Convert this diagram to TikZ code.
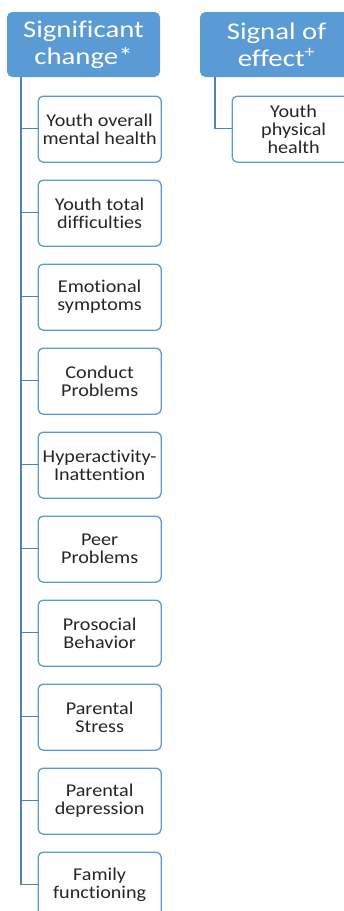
\documentclass[tikz,border=0pt]{standalone}
\usepackage{fontspec}
\setmainfont{Carlito}[Ligatures=NoCommon]
\newfontfamily\widefont[FakeStretch=1.12,Ligatures=NoCommon]{Carlito}
\newfontfamily\hdrfont[FakeStretch=1.2,Ligatures=NoCommon]{Carlito}
\definecolor{hdrblue}{HTML}{5B9BD5}
\definecolor{txtgray}{HTML}{262626}
\begin{document}
\begin{tikzpicture}[x=1pt,y=-1pt,
  hdr/.style={draw=hdrblue,fill=hdrblue,rounded corners=5pt,line width=1pt,
    minimum width=152pt,minimum height=64pt,text=white,align=center,
    font=\hdrfont\fontsize{24}{27}\selectfont,inner sep=0pt,anchor=north west},
  child/.style={draw=hdrblue,fill=white,rounded corners=5pt,line width=1.3pt,
    minimum width=123pt,minimum height=66pt,text=txtgray,align=center,
    font=\widefont\fontsize{18}{18}\selectfont,inner sep=0pt,anchor=north west},
  conn/.style={draw=hdrblue!85!black,line width=1.3pt}]
\clip (0,0) rectangle (344,911);
\useasboundingbox (0,0) rectangle (344,911);
\fill[white] (0,0) rectangle (344,911);
\node[hdr] (h1) at (7,12) {Significant\\change*};
\node[hdr] (h2) at (200,12) {Signal of\\effect\textsuperscript{+}};
\coordinate (s1) at ([xshift=14pt]h1.south west);
\coordinate (s2) at ([xshift=15pt]h2.south west);
\foreach \i/\t in {0/{Youth overall\\mental health},1/{Youth total\\difficulties},2/{Emotional\\symptoms},3/{Conduct\\Problems},4/{Hyperactivity-\\Inattention},5/{Peer\\Problems},6/{Prosocial\\Behavior},7/{Parental\\Stress},8/{Parental\\depression},9/{Family\\functioning}}{
  \draw[conn] (s1) |- (37.5,128.5+84*\i) coordinate (e\i);
  \node[child] (c\i) at (37.5,95.5+84*\i) {\t};
}
\draw[conn] (s2) |- (231.5,128.5) coordinate (ep);
\node[child] (p1) at (231.5,95.5) {Youth\\physical\\health};
\end{tikzpicture}
\end{document}
